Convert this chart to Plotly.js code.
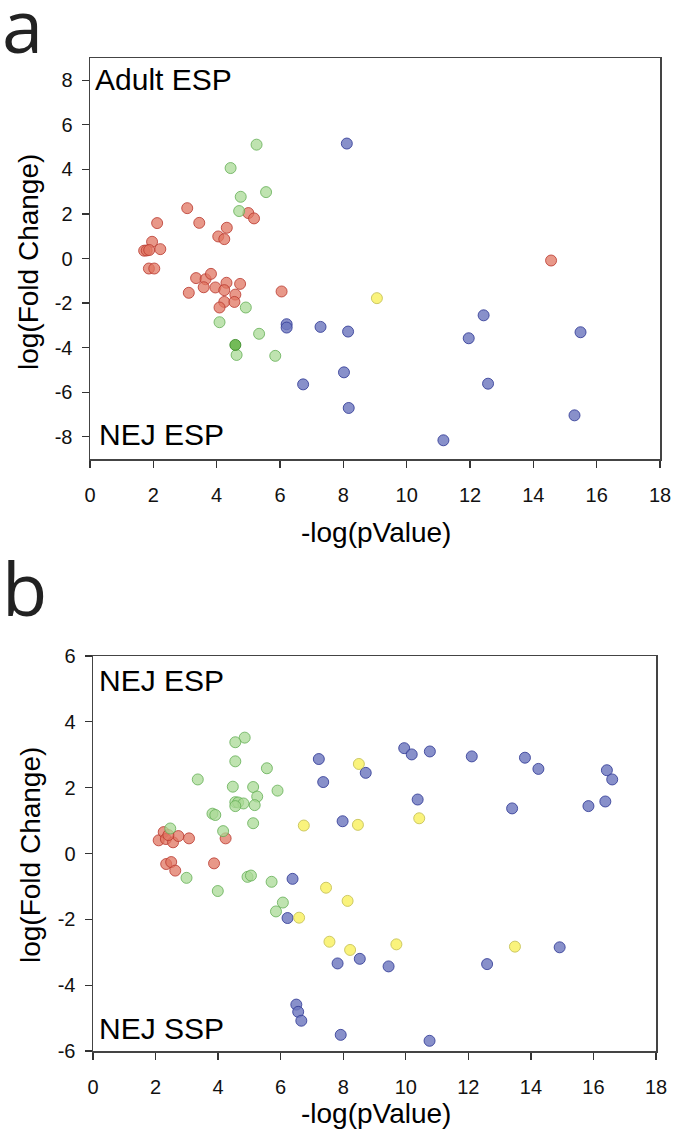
<!DOCTYPE html>
<html>
<head>
<meta charset="utf-8">
<script src="https://cdn.plot.ly/plotly-3.0.1.min.js"></script>
<style>html,body{margin:0;padding:0;background:#fff;}#chart{width:675px;height:1141px;}</style>
</head>
<body>
<div id="chart"></div>
<script>
// ---------- Panel a (Adult ESP vs NEJ ESP) ----------
var a_red_x = [3.07,2.12,3.45,4.32,4.05,4.24,5.00,5.18,1.96,1.71,1.79,1.87,2.22,1.86,2.03,3.35,3.65,3.82,3.59,3.12,3.96,4.31,4.24,4.74,4.59,4.24,4.56,4.09,6.05,14.56];
var a_red_y = [2.26,1.59,1.60,1.38,0.99,0.87,2.04,1.80,0.75,0.35,0.36,0.38,0.42,-0.45,-0.45,-0.88,-0.93,-0.69,-1.29,-1.54,-1.30,-1.09,-1.42,-1.14,-1.62,-1.95,-1.95,-2.20,-1.48,-0.09];
var a_green_x = [5.26,4.44,4.76,5.56,4.71,4.92,4.09,5.34,4.63,5.85];
var a_green_y = [5.11,4.06,2.77,2.98,2.13,-2.20,-2.86,-3.38,-4.33,-4.37];
var a_darkgreen_x = [4.59];
var a_darkgreen_y = [-3.88];
var a_blue_x = [8.11,6.21,6.21,7.28,8.15,8.02,6.73,8.17,12.43,11.96,15.49,12.57,15.30,11.16];
var a_blue_y = [5.16,-2.95,-3.10,-3.07,-3.28,-5.11,-5.65,-6.71,-2.55,-3.58,-3.31,-5.62,-7.04,-8.16];
var a_yellow_x = [9.06];
var a_yellow_y = [-1.78];

// ---------- Panel b (NEJ ESP vs NEJ SSP) ----------
var b_green_x = [4.85,4.55,4.55,5.56,3.35,4.47,5.12,5.90,5.25,4.55,4.64,4.81,4.55,5.17,3.82,3.91,5.12,4.16,2.47,2.99,4.94,5.05,3.99,5.71,6.07,5.85];
var b_green_y = [3.52,3.38,2.80,2.59,2.25,2.03,2.02,1.91,1.73,1.56,1.55,1.52,1.44,1.47,1.21,1.17,0.92,0.68,0.76,-0.74,-0.71,-0.67,-1.14,-0.86,-1.49,-1.76];
var b_red_x = [2.10,2.26,2.33,2.56,2.73,3.07,2.41,4.24,2.34,2.50,2.63,3.87];
var b_red_y = [0.40,0.65,0.44,0.34,0.53,0.46,0.56,0.46,-0.32,-0.26,-0.52,-0.30];
var b_blue_x = [7.22,8.72,7.36,7.98,6.38,6.22,7.82,8.53,6.50,6.56,6.66,7.92,9.95,10.19,10.77,12.11,13.81,14.24,16.43,16.60,10.38,13.40,15.84,16.38,9.45,12.60,14.92,10.76];
var b_blue_y = [2.87,2.45,2.17,0.98,-0.77,-1.96,-3.34,-3.20,-4.59,-4.81,-5.08,-5.51,3.20,3.01,3.10,2.95,2.91,2.57,2.53,2.25,1.64,1.37,1.44,1.58,-3.43,-3.36,-2.85,-5.69];
var b_yellow_x = [8.50,6.74,8.47,7.45,8.14,6.59,7.56,8.22,10.43,9.70,13.49];
var b_yellow_y = [2.72,0.85,0.87,-1.04,-1.44,-1.95,-2.68,-2.93,1.07,-2.76,-2.83];

var xTicks = [0,2,4,6,8,10,12,14,16,18];
var aYTicks = [-8,-6,-4,-2,0,2,4,6,8];
var bYTicks = [-6,-4,-2,0,2,4,6];
var labels = {panelA:"a", panelB:"b", aTop:"Adult ESP", aBottom:"NEJ ESP", bTop:"NEJ ESP", bBottom:"NEJ SSP", xTitle:"-log(pValue)", yTitle:"log(Fold Change)"};

var styles = {
  red:   {fill:"rgba(224,118,98,0.75)", line:"rgba(185,55,45,0.8)"},
  green: {fill:"rgba(170,218,150,0.75)", line:"rgba(100,175,85,0.8)"},
  dgreen:{fill:"rgba(100,180,70,0.9)", line:"rgba(60,140,40,0.9)"},
  blue:  {fill:"rgba(110,120,190,0.82)", line:"rgba(50,60,150,0.85)"},
  yellow:{fill:"rgba(250,242,110,0.9)", line:"rgba(200,195,90,0.9)"}
};
function tr(x, y, st, xa, ya){
  return {type:"scatter", mode:"markers", x:x, y:y, xaxis:xa, yaxis:ya, showlegend:false, hoverinfo:"skip",
    marker:{size:11, color:styles[st].fill, line:{color:styles[st].line, width:1}}};
}
var data = [
  tr(a_red_x, a_red_y, "red", "x", "y"),
  tr(a_green_x, a_green_y, "green", "x", "y"),
  tr(a_darkgreen_x, a_darkgreen_y, "dgreen", "x", "y"),
  tr(a_blue_x, a_blue_y, "blue", "x", "y"),
  tr(a_yellow_x, a_yellow_y, "yellow", "x", "y"),
  tr(b_red_x, b_red_y, "red", "x2", "y2"),
  tr(b_green_x, b_green_y, "green", "x2", "y2"),
  tr(b_blue_x, b_blue_y, "blue", "x2", "y2"),
  tr(b_yellow_x, b_yellow_y, "yellow", "x2", "y2")
];

var W = 675, H = 1141;
function px(v){ return v / W; }
function py(v){ return 1 - v / H; }
var FAM = "Liberation Sans";
var tickFont = {family:FAM, size:20, color:"#111"};
function xaxisDef(l, r, anchor){
  return {domain:[px(l), px(r)], range:[0,18], tickvals:xTicks, ticktext:xTicks.map(String), anchor:anchor,
    showgrid:false, zeroline:false, showline:true, linecolor:"#444", linewidth:1.5, mirror:true,
    ticks:"outside", ticklen:7, tickwidth:1.3, tickcolor:"#333", tickfont:tickFont, ticklabelstandoff:10, fixedrange:true};
}
function yaxisDef(t, b, rng, tv, anchor){
  return {domain:[py(b), py(t)], range:rng, tickvals:tv, ticktext:tv.map(String), anchor:anchor,
    showgrid:false, zeroline:false, showline:true, linecolor:"#444", linewidth:1.5, mirror:true,
    ticks:"outside", ticklen:7, tickwidth:1.3, tickcolor:"#333", tickfont:tickFont, ticklabelstandoff:5, fixedrange:true};
}
var textFont = {family:FAM, size:30, color:"#000"};
var titleFont = {family:FAM, size:28, color:"#000"};
var letterFont = {family:"Open Sans", size:74, color:"#222"};
function ann(text, x, y, font, xanchor, extra){
  var o = {text:text, x:px(x), y:py(y), xref:"paper", yref:"paper", xanchor:xanchor||"left", yanchor:"middle", showarrow:false, font:font};
  if (extra) for (var k in extra) o[k] = extra[k];
  return o;
}
var layout = {
  width:W, height:H, margin:{l:0, r:0, t:0, b:0}, paper_bgcolor:"#fff", plot_bgcolor:"#fff", showlegend:false,
  xaxis: xaxisDef(90, 660, "y"),
  yaxis: yaxisDef(58, 459, [-9, 9], aYTicks, "x"),
  xaxis2: xaxisDef(93, 656, "y2"),
  yaxis2: yaxisDef(656, 1051, [-6, 6], bYTicks, "x2"),
  annotations: [
    ann(labels.panelA, 0, 24, letterFont),
    ann(labels.panelB, 0, 587, letterFont),
    ann(labels.aTop, 93, 79, textFont),
    ann(labels.aBottom, 97, 435, textFont),
    ann(labels.bTop, 97, 680, textFont),
    ann(labels.bBottom, 97, 1028, textFont),
    ann(labels.xTitle, 376, 532, titleFont, "center"),
    ann(labels.xTitle, 376, 1113, titleFont, "center"),
    ann(labels.yTitle, 28, 262, titleFont, "center", {textangle:-90}),
    ann(labels.yTitle, 30, 855, titleFont, "center", {textangle:-90})
  ]
};
Plotly.newPlot("chart", data, layout, {displayModeBar:false, staticPlot:true});
</script>
</body>
</html>
